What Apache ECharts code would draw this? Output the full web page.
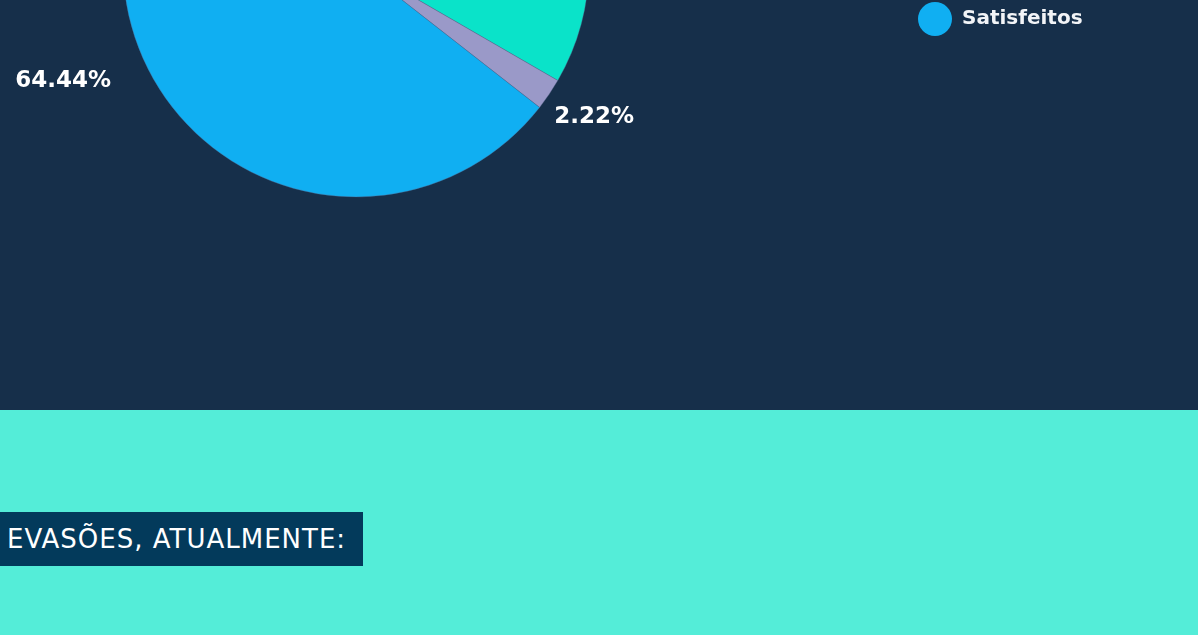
<!DOCTYPE html>
<html>
<head>
<meta charset="utf-8">
<script src="https://cdn.jsdelivr.net/npm/echarts@6/dist/echarts.min.js"></script>
<style>
  html, body { margin: 0; padding: 0; }
  body { width: 1198px; height: 635px; background: #54edd8; position: relative; overflow: hidden; }
  .top { position: absolute; left: 0; top: 0; width: 1198px; height: 410px; background: #162f4a; overflow: hidden; }
  #chart { position: absolute; left: 0; top: -300px; width: 1198px; height: 710px; }
  .tag { position: absolute; left: 0; top: 512px; width: 363px; height: 54px; background: #033a5b;
    color: #fff; font-family: "DejaVu Sans", sans-serif; font-size: 26px; letter-spacing: 1px;
    line-height: 54px; padding-left: 7px; box-sizing: border-box; white-space: nowrap; }
</style>
</head>
<body>
<div class="top"><div id="chart"></div></div>
<div class="tag">EVASÕES, ATUALMENTE:</div>
<script>
// respostas (contagem) -> 33.33% / 2.22% / 64.44%
const categories = ['Insatisfeitos', 'Não responderam', 'Satisfeitos']
const values = [15, 1, 29]
const colors = ['#0ae3c9', '#9a99c8', '#10aff2']

const total = values.reduce((sum, v) => sum + v, 0)

const myChart = echarts.init(document.getElementById('chart'))

let option = {
  backgroundColor: 'transparent',
  color: colors,
  legend: {
    orient: 'vertical',
    left: 913,
    top: 189,
    icon: 'circle',
    itemWidth: 44,
    itemHeight: 34,
    itemGap: 20,
    itemStyle: { borderWidth: 0 },
    textStyle: {
      color: '#f2f4f7',
      fontFamily: 'DejaVu Sans',
      fontWeight: 'bold',
      fontSize: 20
    },
    data: categories
  },
  series: [
    {
      type: 'pie',
      center: [356, 264],
      radius: 233,
      startAngle: 90,
      clockwise: true,
      avoidLabelOverlap: false,
      itemStyle: {
        borderColor: 'rgba(90,100,140,0.6)',
        borderWidth: 0.6
      },
      label: {
        show: true,
        position: 'outside',
        // sem arredondamento "largest remainder" (a fonte mostra 64.44%)
        formatter: (p) => (p.value / total * 100).toFixed(2) + '%',
        color: '#ffffff',
        fontFamily: 'DejaVu Sans',
        fontWeight: 'bold',
        fontSize: 23
      },
      labelLine: {
        show: false,
        length: 34,
        length2: 0
      },
      emphasis: { disabled: true },
      data: categories.map((name, i) => {
        const item = { name, value: values[i] }
        // rótulo pequeno fica mais perto da fatia
        if (i === 1) item.label = { offset: [-28, 4] }
        return item
      })
    }
  ]
}

myChart.setOption(option)
</script>
</body>
</html>
